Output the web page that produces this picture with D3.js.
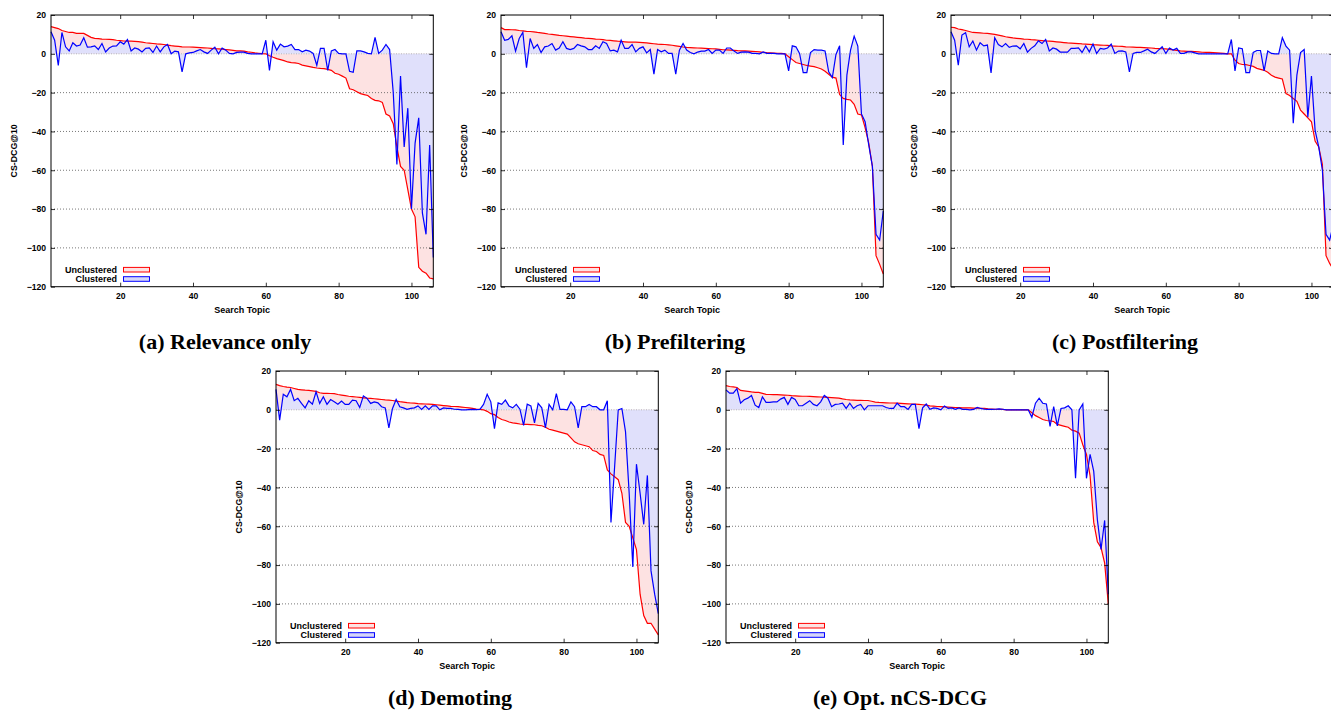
<!DOCTYPE html>
<html><head><meta charset="utf-8">
<script src="https://cdn.jsdelivr.net/npm/d3@7"></script>
<style>body{margin:0;background:#fff} svg{display:block}</style>
</head><body><svg id="c" width="1331" height="710"></svg>
<script>
// ---------- data ----------
const topics = d3.range(1, 107); // search topics 1..106
const yTickValues = [20, 0, -20, -40, -60, -80, -100, -120];
const xTickValues = [20, 40, 60, 80, 100];
const gridValues = [-20, -40, -60, -80, -100];
const seriesNames = ["Unclustered", "Clustered"];
const captions = ["(a) Relevance only", "(b) Prefiltering", "(c) Postfiltering", "(d) Demoting", "(e) Opt. nCS-DCG"];

const relevanceUnclustered = [14,13.5,13,12,11.5,11,11,10.5,10.5,10.5,9.5,8.5,8,7.8,7.6,7.5,7.4,7.3,7,6.8,6.6,6.5,6.5,6.4,6.3,6,5.7,5.5,5.3,5.1,5,4.8,4.5,4.2,4,3.8,3.6,3.5,3.5,3.4,3.3,3.2,3.1,3,2.8,2.6,2.5,2.4,2.2,2,1.8,1.5,1.5,1.4,1,0.8,0.5,0.3,0.1,0,-1,-1.8,-2.5,-3,-3.5,-4.2,-4.5,-4.7,-5,-5.8,-6.2,-6.6,-7,-7.3,-7.5,-7.6,-8,-8.5,-10,-10.5,-11.5,-12.5,-18,-18.5,-19.5,-20.5,-21,-21.5,-23,-24,-24.2,-25,-31,-32,-36,-48,-58,-60,-70,-80,-84,-110,-112,-113,-115.5,-116];
const relevanceClustered = [11.4,7,-6,11,3.6,1.5,5.7,4,4.5,8.3,3.4,3.6,4.1,2.2,5.3,1,3,4,4.1,6.2,5,7.4,1.5,3,2.4,1,2.8,3,0.7,4,1,3.6,4.8,0,1.4,1,-9.3,0,0.5,0.7,1.5,2.2,1,0.2,1.9,3.4,0,3,1.9,0.2,0,0.7,0.9,0.9,0.2,0,0,0,0,7,-8.5,6.2,1.9,5,3.6,4,4.8,2.2,2.2,1,1.9,1.4,0.2,-5.9,2.8,2.8,-8.5,1.5,2.2,0.2,0,0,-9,-9.5,1.5,1.5,1,0.2,0,8.5,0.2,1.9,4.8,2.2,-20,-57,-11.5,-48,-28,-80,-46,-33,-82,-93,-47,-105];

const prefilterUnclustered = [13.5,12.5,12.5,12.4,12.3,12,11.8,11.6,11.5,11.3,11,10.8,10.5,10.2,10,9.8,9.5,9.3,9.1,8.9,8.7,8.5,8.3,8.1,8,7.8,7.6,7.5,7.3,7,6.9,6.7,6.5,6.4,6.2,6,6,6,5.9,5.8,5.6,5.4,5.2,5,4.9,4.8,4.6,4.4,4.1,3.8,3.5,3.3,3.2,3.1,3,2.9,2.8,2.7,2.6,2.5,2.3,2.1,2,1.9,1.8,1.6,1.5,1.5,1.4,1.3,1.2,1,0.8,0.6,0.5,0.4,0.3,0.2,0,-1.5,-3,-4.5,-5,-5.5,-6,-6.3,-6.6,-7.2,-7.8,-9,-10.5,-12,-12.5,-21,-23,-23.5,-23.8,-26,-31,-31.5,-38,-46,-58,-104,-108.5,-113.5];
const prefilterClustered = [11.4,7,7.4,9.3,1.4,7.9,11,-7.2,7.9,2.8,4.8,0.7,3.6,4,5.3,1.9,3,6.2,2.8,2.2,2.8,4.8,4.1,3.6,2.2,2.2,4.1,2.8,6.2,5.3,1.5,1.9,1,7,2.8,2.8,4.8,1,2.8,3.6,0.5,2.2,-10.5,2.2,1,1.9,0.2,0.2,-10.5,1.9,5.3,1.9,0.7,0,0.9,1.4,1.4,2.2,0.2,1.9,1.9,0.2,3,3,1.4,0.2,0.9,1,0.9,0.2,0.2,0,1,0.2,0.2,0.2,0,0,0,-8.8,4.1,3.6,0.2,-9.7,-9.7,0.7,2.2,1.9,1.9,1.5,-9.3,-12.2,-0.3,4.1,-47,-11,1.9,9.1,4,-31,-35,-47,-58,-93,-96,-81];

const postfilterUnclustered = [13.7,13.5,12.8,12.5,12,11.5,11,10.9,10.8,10.6,10.5,10.3,10,9.6,9.2,8.8,8.5,8.2,8,7.8,7.6,7.5,7.3,7.2,7,6.8,6.6,6.5,6.4,6.2,6,5.8,5.6,5.5,5.4,5.3,5.1,5,4.9,4.7,4.6,4.5,4.4,4.3,4.1,4,3.9,3.8,3.6,3.5,3.4,3.3,3.3,3.2,3.1,3,2.8,2.7,2.6,2.5,2.3,2,1.8,1.5,1.4,1.3,1.3,1.2,1,0.8,0.7,0.7,0.6,0.5,0.4,0.2,0,0,-3.3,-5,-5.5,-5.6,-6,-6.5,-7.5,-8,-8.5,-9.5,-11,-12,-12.5,-13,-20.5,-21.5,-23,-24.5,-29,-31,-33,-35,-45,-48,-57,-104,-108,-111];
const postfilterClustered = [11.4,7,-5.9,9.7,10.9,3.6,6.6,1.9,5.7,4.1,4.5,-9.8,8.3,4.8,3.6,5.3,3.3,4,4.1,2.6,5.3,0.9,2.8,4.1,6.7,5.3,7.4,1.5,3,2.4,0.9,0.9,0.9,2.8,2.8,3,0.7,4.1,1,5,0.2,2.8,2.4,3,5,0.2,1.4,1.5,1,-9.3,0.2,0.7,0.7,1.5,2.4,1,0.2,1.9,3.6,0.2,3,1.9,2.8,0.2,0.2,1,1,0.5,0,0,0,0,0,0,0,0,0,7.4,-8.8,3,2.6,-9.7,-9.7,0.7,1.7,1.7,-8.8,1.5,0.2,0,0,8.3,4,1.9,-35.7,-11,0.7,2.2,-32.6,-11.5,-39.5,-48,-60,-93,-96,-88];

const demotingUnclustered = [13.1,12.5,12,11.7,11.5,11,10.5,10.3,10.1,10,9.8,9.5,8.8,8.5,8.5,8.4,8.3,7.9,7.6,7.3,7,6.8,6.6,6.4,6.2,6,5.9,5.7,5.5,5.3,5.1,5,4.8,4.5,4.2,4,3.7,3.5,3.4,3.2,3.1,3,2.9,2.8,2.6,2.4,2.2,2,1.8,1.7,1.6,1.4,1.2,1,0.7,0.4,0.2,0,-0.8,-2,-2.5,-4,-5,-5.5,-6.3,-6.7,-7,-7.3,-7.5,-7.5,-7.6,-7.7,-8,-8.2,-9,-10,-10.5,-11,-11.5,-12,-12.5,-14.5,-16.5,-17.5,-18,-18.5,-19,-21,-21.5,-23,-23.5,-31,-33,-34.5,-36,-43,-58,-60,-66,-72,-95,-106,-110,-110,-113,-116];
const demotingClustered = [10.5,-5.3,8,6.7,10.5,4.7,5.9,3.3,1,4.7,2.9,9.3,3.3,6.7,2.8,5.3,4.1,2.9,4.5,2.8,2.8,5,4.7,1.2,7.2,5.9,3.3,4.1,3.6,1.6,1,-9.3,0.7,5.3,1.6,1,0.2,0.7,1,2,0.2,2,0.2,2,2,0,1,0.7,0.7,0.3,0.2,0,0,0.1,0.2,0.1,0.2,2.8,8,4.1,-9.7,3.6,2.8,5,2,1,2.8,0.3,-8,2.9,2,-6.7,3.3,1,-9.3,2.8,0,8.4,0.2,0.2,0,4.1,1.6,-9.3,1.6,1.6,2.8,1.6,1.6,0,0,4.7,-58,-29.5,0,0.7,-11.4,-43,-81,-28,-43,-59,-33.8,-83,-95,-105];

const optUnclustered = [12.5,12,11.8,11.5,10,9.8,9.5,9.2,9,9,8.5,8,7.9,7.8,7.8,7.7,7.6,7.5,7.3,7.2,7.1,7,7,6.9,6.8,6.7,6.6,6.5,6.4,6.3,6.2,6,5.6,5.3,5.1,5,4.9,4.9,4.8,4.8,4.4,4,3.8,3.7,3.6,3.5,3.5,3.4,3.3,3.2,3.1,3,2.9,2.8,2.6,2.4,2,1.9,1.7,1.6,1.5,1.4,1.3,1.2,1.1,1,1,1,0.9,0.9,0.8,0.7,0.5,0.4,0.3,0.3,0.2,0,0,0,0,0,0,0,-1.5,-3,-4,-5,-5.5,-5.7,-6,-7.5,-8,-8.5,-9,-10.5,-11,-12,-18,-23,-34,-58,-68,-71,-79,-100];
const optClustered = [10.3,8.6,8.6,10.9,3.4,5.2,6,7.4,2.4,1.2,6.7,3.8,3.8,4.1,4.1,5.5,6.4,2.8,6.4,5.3,2.1,2.1,3.4,4.7,2.8,2.1,4.1,7.4,6,1.6,2.8,3,3.4,0.7,3.4,0.7,2.1,2.8,0,2.1,2.1,2.1,2.1,2.1,1.2,0.7,0.7,3.4,1.6,1.6,0.2,2.8,2.8,-9.7,1,3,0.3,1,0.7,0,2,0.7,1,0.2,1,0.2,0.2,0,0.2,1.2,0.7,0.3,0.2,0.2,0.3,0.5,0.3,0,0,0,0,0,0,0,-3.8,3.4,6,3.4,3,-8.6,1.6,-8.3,0.7,1,2.1,0,-35.3,0,3,-35.3,-23,-31.7,-56.7,-72,-57,-95];

const panelSeries = [
  [relevanceUnclustered, relevanceClustered],
  [prefilterUnclustered, prefilterClustered],
  [postfilterUnclustered, postfilterClustered],
  [demotingUnclustered, demotingClustered],
  [optUnclustered, optClustered]
];

// ---------- layout ----------
const origins = [[0,0],[450,0],[900,0],[225,356],[675,356]];
const L = 51, R = 433.3, T = 15, B = 286.7;
const lineColors = ["#ff0000", "#0000ff"];
const fillColors = ["#fde2e2", "#e0e0fb"];
const legendFill = ["#fde2e2", "#d6d6f8"];
const tickFont = "bold 8.6px 'Liberation Sans', Arial, sans-serif";

const svg = d3.select("#c");
const x = d3.scaleLinear().domain([1, 106]).range([L, R]);
const y = d3.scaleLinear().domain([-120, 20]).range([B, T]);

panelSeries.forEach((series, pi) => {
  const g = svg.append("g").attr("transform", `translate(${origins[pi][0]},${origins[pi][1]})`);

  // fills (unclustered first, clustered over it)
  series.forEach((vals, si) => {
    const area = d3.area().x((d, i) => x(topics[i])).y0(y(0)).y1(d => y(d));
    g.append("path").datum(vals).attr("d", area).attr("fill", fillColors[si]).attr("stroke", "none");
  });

  // grid lines
  g.selectAll(".grid").data(gridValues).enter().append("line")
    .attr("x1", L).attr("x2", R).attr("y1", d => y(d)).attr("y2", d => y(d))
    .attr("stroke", "#555").attr("stroke-width", 0.8).attr("stroke-dasharray", "1,2");
  // zero axis
  g.append("line").attr("x1", L).attr("x2", R).attr("y1", y(0)).attr("y2", y(0))
    .attr("stroke", "#b0b0b0").attr("stroke-width", 0.9).attr("stroke-dasharray", "1,1.5");

  // lines
  series.forEach((vals, si) => {
    const line = d3.line().x((d, i) => x(topics[i])).y(d => y(d));
    g.append("path").datum(vals).attr("d", line).attr("fill", "none")
      .attr("stroke", lineColors[si]).attr("stroke-width", 1.2).attr("stroke-linejoin", "miter");
  });

  // axes (ticks inward, labels custom)
  const yAxis = d3.axisLeft(y).tickValues(yTickValues).tickSize(-4).tickPadding(5);
  const ya = g.append("g").attr("transform", `translate(${L},0)`).call(yAxis);
  const yAxisR = d3.axisRight(y).tickValues(yTickValues).tickSize(-4).tickFormat("");
  g.append("g").attr("transform", `translate(${R},0)`).call(yAxisR);
  const xAxis = d3.axisBottom(x).tickValues(xTickValues).tickSize(-4).tickPadding(6);
  const xa = g.append("g").attr("transform", `translate(0,${B})`).call(xAxis);
  const xAxisT = d3.axisTop(x).tickValues(xTickValues).tickSize(-4).tickFormat("");
  g.append("g").attr("transform", `translate(0,${T})`).call(xAxisT);
  g.selectAll(".domain").remove();
  g.selectAll(".tick line").attr("stroke", "#000").attr("stroke-width", 0.8);
  [ya, xa].forEach(a => a.selectAll("text").style("font", tickFont).attr("fill", "#000"));

  // frame
  g.append("rect").attr("x", L).attr("y", T).attr("width", R - L).attr("height", B - T)
    .attr("fill", "none").attr("stroke", "#000").attr("stroke-width", 1);

  // axis titles
  g.append("text").attr("transform", `translate(15,${(T + B) / 2}) rotate(-90)`)
    .attr("text-anchor", "middle").attr("dominant-baseline", "middle")
    .style("font", "bold 8.8px 'Liberation Sans', Arial, sans-serif").text("CS-DCG@10");
  g.append("text").attr("x", (L + R) / 2).attr("y", 313).attr("text-anchor", "middle")
    .style("font", "bold 9px 'Liberation Sans', Arial, sans-serif").text("Search Topic");

  // legend
  seriesNames.forEach((name, si) => {
    const ly = 269.7 + si * 9.3;
    g.append("text").attr("x", 117).attr("y", ly + 3.2).attr("text-anchor", "end")
      .style("font", "bold 9px 'Liberation Sans', Arial, sans-serif").text(name);
    g.append("rect").attr("x", 123.5).attr("y", ly - 2.3).attr("width", 26).attr("height", 4.6)
      .attr("fill", legendFill[si]).attr("stroke", lineColors[si]).attr("stroke-width", 1);
  });

  // caption
  g.append("text").attr("x", 225).attr("y", 348.5).attr("text-anchor", "middle")
    .style("font", "bold 22px 'Liberation Serif', 'Times New Roman', serif").text(captions[pi]);
});
</script>
</body></html>
